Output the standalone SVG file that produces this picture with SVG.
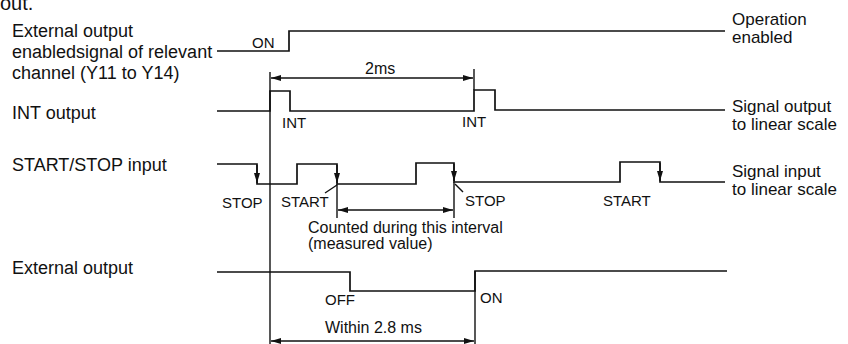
<svg xmlns="http://www.w3.org/2000/svg" width="848" height="344" viewBox="0 0 848 344">
<style>
text{font-family:"Liberation Sans",Arial,Helvetica,sans-serif;fill:#111}
.big{font-size:18px}
.rt{font-size:17px}
.sm{font-size:15px}
.md{font-size:16px}
.w{fill:none;stroke:#111;stroke-width:1.7;stroke-linejoin:miter}
.t{fill:none;stroke:#111;stroke-width:1.4}
</style>
<defs>
<marker id="ah" viewBox="0 0 10 6" refX="10" refY="3" markerWidth="10" markerHeight="6" markerUnits="userSpaceOnUse" orient="auto-start-reverse">
<path d="M0,0 L10,3 L0,6 Z" fill="#111"/>
</marker>
</defs>
<rect width="848" height="344" fill="#fff"/>
<text x="0" y="10" style="font-size:20px">out.</text>

<g id="enable-signal">
<text class="big" x="12" y="37">External output</text>
<text class="big" x="12" y="58">enabledsignal of relevant</text>
<text class="big" x="12" y="79">channel (Y11 to Y14)</text>
<polyline class="w" points="217,51 289,51 289,31 725,31"/>
<text class="sm" x="252" y="48">ON</text>
<text class="rt" x="732" y="25">Operation</text>
<text class="rt" x="732" y="43">enabled</text>
</g>

<g id="int-output">
<text class="big" x="12" y="119">INT output</text>
<polyline class="w" points="217,111 270,111 270,91 290,91 290,111 474,111 474,90 495,90 495,110 725,110"/>
<text class="sm" x="282" y="128">INT</text>
<text class="sm" x="462" y="127">INT</text>
<text class="rt" x="732" y="112">Signal output</text>
<text class="rt" x="732" y="130">to linear scale</text>
</g>

<g id="start-stop-input">
<text class="big" x="12" y="171">START/STOP input</text>
<polyline class="w" points="217,164 257,164 257,184 297,184 297,164 337,164 337,184 416,184 416,163 454,163 454,182 620,182 620,162 660,162 660,182 725,182"/>
<text class="sm" x="222" y="208">STOP</text>
<text class="sm" x="281" y="207">START</text>
<text class="sm" x="465" y="206">STOP</text>
<text class="sm" x="603" y="206">START</text>
<text class="rt" x="732" y="177">Signal input</text>
<text class="rt" x="732" y="195">to linear scale</text>
</g>

<g id="external-output">
<text class="big" x="12" y="274">External output</text>
<polyline class="w" points="217,272 350,272 350,291 475,291 475,271 727,271"/>
<text class="sm" x="325" y="305">OFF</text>
<text class="sm" x="480" y="303">ON</text>
</g>

<g id="connectors">
<line class="t" x1="270" y1="72" x2="270" y2="344"/>
<line class="t" x1="474" y1="69" x2="474" y2="90"/>
<line class="t" x1="271" y1="78" x2="473" y2="78" marker-start="url(#ah)" marker-end="url(#ah)"/>
<path class="t" d="M257,165 V183" marker-end="url(#ah)"/>
<path class="t" d="M337,165 V183" marker-end="url(#ah)"/>
<path class="t" d="M454,164 V181" marker-end="url(#ah)"/>
<path class="t" d="M660,163 V181" marker-end="url(#ah)"/>
<line class="t" x1="337" y1="184" x2="337" y2="218"/>
<line class="t" x1="454" y1="182" x2="454" y2="218"/>
<line class="t" x1="338" y1="210" x2="453" y2="210" marker-start="url(#ah)" marker-end="url(#ah)"/>
<line class="t" x1="325" y1="193" x2="337" y2="185"/>
<line class="t" x1="455" y1="184" x2="463" y2="192"/>
<line class="t" x1="475" y1="271" x2="475" y2="344"/>
<line class="t" x1="271" y1="341" x2="474" y2="341" marker-start="url(#ah)" marker-end="url(#ah)"/>
<text x="365" y="74" style="font-size:16px">2ms</text>
<text class="md" x="308" y="233">Counted during this interval</text>
<text class="md" x="308" y="249">(measured value)</text>
<text x="325" y="333" style="font-size:16px">Within 2.8 ms</text>
</g>
</svg>
